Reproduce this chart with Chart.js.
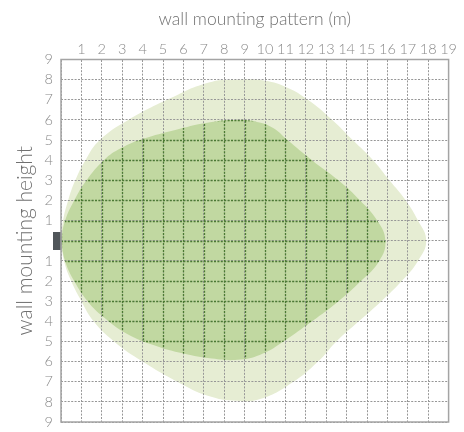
<!DOCTYPE html>
<html>
<head>
<meta charset="utf-8">
<script src="https://cdn.jsdelivr.net/npm/chart.js@4.4.1/dist/chart.umd.min.js"></script>
<style>
  html, body { margin: 0; padding: 0; background: #fff; }
  #wrap { width: 464px; height: 432px; }
</style>
</head>
<body>
<div id="wrap"><canvas id="chart"></canvas></div>
<script>
// tick labels (x on top, y from top to bottom, wall position has no label)
const xTickLabels = ['', '1', '2', '3', '4', '5', '6', '7', '8', '9', '10', '11', '12', '13', '14', '15', '16', '17', '18', '19'];
const yTickLabels = ['9', '8', '7', '6', '5', '4', '3', '2', '1', '', '1', '2', '3', '4', '5', '6', '7', '8', '9'];

// outer (light) coverage outline, from the wall going round clockwise
const outerX = [0, 0.1, 0.35, 0.7, 1.2, 1.9, 3.3, 5.2, 7.2, 8.6, 10.0, 11.1, 12.1, 13.3, 14.3, 15.3, 16.1, 16.9, 17.5, 17.9, 17.5, 16.7, 15.7, 14.6, 13.5, 12.6, 11.4, 9.8, 8.6, 7.2, 5.7, 4.0, 2.6, 1.6, 1.0, 0.5, 0.15, 0];
const outerY = [0, 1.0, 2.0, 3.0, 4.0, 5.0, 6.0, 7.0, 7.85, 8.0, 7.95, 7.6, 7.0, 6.0, 5.0, 4.0, 3.0, 2.0, 1.0, 0, -1, -2, -3, -4, -5, -6, -7, -7.85, -7.95, -7.7, -7.0, -6.0, -5.0, -4.0, -3.0, -2.0, -1.0, 0];

// inner (dark) coverage outline
const innerX = [0, 0.2, 0.65, 1.25, 2.1, 2.95, 4.0, 5.6, 7.1, 8.5, 9.6, 10.4, 11.1, 12.3, 13.6, 14.66, 15.5, 15.9, 15.6, 14.7, 13.6, 12.3, 10.9, 9.9, 8.8, 7.4, 6.0, 4.6, 3.2, 2.1, 1.3, 0.65, 0.2, 0];
const innerY = [0, 1.0, 2.0, 3.0, 4.0, 4.6, 5.05, 5.5, 5.85, 6.0, 5.9, 5.6, 5.0, 4.0, 3.0, 2.0, 1.0, 0, -1, -2, -3, -4, -5, -5.6, -5.9, -5.85, -5.6, -5.2, -4.6, -3.8, -3.0, -2.0, -1.0, 0];

// fixture on the wall
const wallX = [0];
const wallY = [0];

const toPoints = (xs, ys) => xs.map((x, i) => ({ x: x, y: ys[i] }));

function wallMarker() {
    const c = document.createElement('canvas');
    c.width = 16; c.height = 18;
    const g = c.getContext('2d');
    g.fillStyle = '#50565a';
    g.fillRect(0, 0, 8.5, 18);
    return c;
}

const FONT = 'Lato, "Open Sans", sans-serif';
const INNER = 1;

// darker grid inside the inner zone, then the frame
const innerGrid = {
    id: 'innerGrid',
    afterDraw(chart) {
        const { ctx, chartArea: a, scales: { x, y } } = chart;
        const line = chart.getDatasetMeta(INNER).dataset;
        ctx.save();
        ctx.beginPath();
        line.path(ctx);
        ctx.closePath();
        ctx.clip();
        ctx.strokeStyle = '#4b7a33';
        ctx.lineWidth = 1.3;
        ctx.setLineDash([2, 1.4]);
        x.ticks.forEach(t => {
            const px = Math.round(x.getPixelForValue(t.value)) + 0.5;
            ctx.beginPath(); ctx.moveTo(px, a.top); ctx.lineTo(px, a.bottom); ctx.stroke();
        });
        y.ticks.forEach(t => {
            const py = Math.round(y.getPixelForValue(t.value)) + 0.5;
            ctx.beginPath(); ctx.moveTo(a.left, py); ctx.lineTo(a.right, py); ctx.stroke();
        });
        ctx.restore();

        ctx.save();
        ctx.strokeStyle = '#a4a4a4';
        ctx.lineWidth = 1.5;
        ctx.strokeRect(a.left, a.top, a.right - a.left, a.bottom - a.top);
        ctx.restore();
    }
};

new Chart(document.getElementById('chart'), {
    type: 'line',
    data: {
        datasets: [
            {
                label: 'wall',
                data: toPoints(wallX, wallY),
                showLine: false,
                pointStyle: wallMarker(),
                pointRadius: 9,
                clip: false,
                order: 0
            },
            {
                label: 'inner',
                data: toPoints(innerX, innerY),
                backgroundColor: '#c1d8a1',
                borderWidth: 0,
                pointRadius: 0,
                tension: 0.45,
                fill: 'shape',
                order: 1
            },
            {
                label: 'outer',
                data: toPoints(outerX, outerY),
                backgroundColor: '#e6edd3',
                borderWidth: 0,
                pointRadius: 0,
                tension: 0.45,
                fill: 'shape',
                order: 2
            }
        ]
    },
    options: {
        responsive: true,
        maintainAspectRatio: false,
        animation: false,
        layout: { padding: { left: 0, right: 15.4, top: 0, bottom: 6 } },
        plugins: { legend: { display: false }, tooltip: { enabled: false } },
        scales: {
            x: {
                type: 'linear',
                position: 'top',
                min: 0, max: 19,
                grid: { color: '#979797', lineWidth: 1, drawTicks: false, z: 1 },
                border: { display: false, dash: [2, 1.4] },
                ticks: {
                    stepSize: 1, autoSkip: false, maxRotation: 0, padding: 1,
                    color: '#8a8a8a', font: { family: FONT, size: 14.5, weight: '300' },
                    callback: v => xTickLabels[v]
                },
                title: {
                    display: true, text: 'wall mounting pattern (m)', color: '#707070',
                    font: { family: FONT, size: 17.5, weight: '300' }, padding: { top: 8.5, bottom: 0 }
                },
                afterFit: s => { s.height = 59.5; s.paddingLeft = 0; s.paddingRight = 0; }
            },
            y: {
                type: 'linear',
                min: -9, max: 9,
                grid: { color: '#979797', lineWidth: 1, drawTicks: false, z: 1 },
                border: { display: false, dash: [2, 1.4] },
                ticks: {
                    stepSize: 1, autoSkip: false, padding: 8,
                    color: '#8a8a8a', font: { family: FONT, size: 14.5, weight: '300' },
                    callback: v => yTickLabels[9 - v]
                },
                title: {
                    display: true, text: 'wall mounting height', color: '#707070',
                    font: { family: FONT, size: 21, weight: '300' }, padding: { top: 12.4, bottom: 0 }
                },
                afterFit: s => { s.width = 61; s.paddingTop = 0; s.paddingBottom = 0; }
            }
        }
    },
    plugins: [innerGrid]
});
</script>
</body>
</html>
